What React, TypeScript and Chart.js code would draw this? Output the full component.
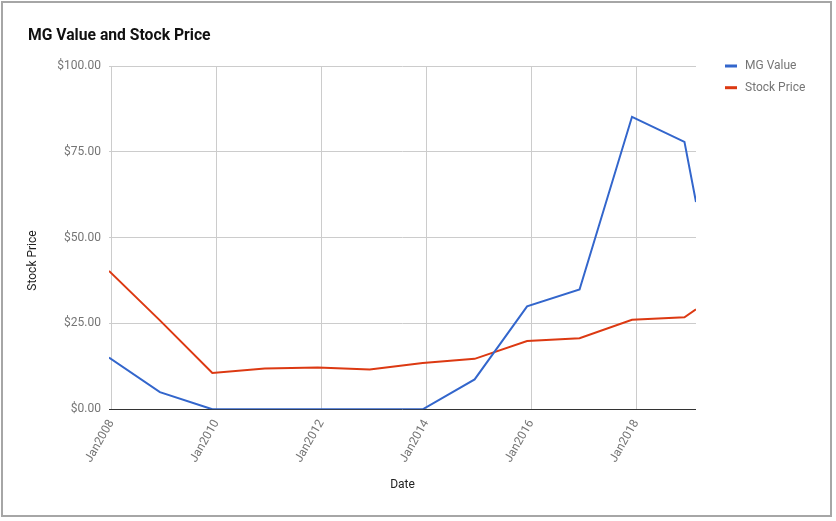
import React, { useEffect, useRef } from 'react';
import { Chart, registerables } from 'chart.js';

Chart.register(...registerables);

// ---- data ----
const pointDates = [2007.95, 2008.92, 2009.92, 2010.92, 2011.93, 2012.92, 2013.93, 2014.92, 2015.92, 2016.92, 2017.92, 2018.92, 2019.14];
const mgValue = [15.1, 5.0, 0, 0, 0, 0, 0, 8.7, 30.0, 34.9, 85.2, 77.9, 60.4];
const stockPrice = [40.3, 25.9, 10.6, 11.9, 12.2, 11.6, 13.5, 14.7, 19.9, 20.7, 26.1, 26.8, 29.1];
const xTickYears = [2008, 2010, 2012, 2014, 2016, 2018];
const yTickValues = [0, 25, 50, 75, 100];
const seriesNames = ['MG Value', 'Stock Price'];
const seriesColors = ['#3366cc', '#dc3912'];
const chartTitle = 'MG Value and Stock Price';
const xAxisTitle = 'Date';
const yAxisTitle = 'Stock Price';

const sideLegend = {
  id: 'sideLegend',
  afterDraw(chart: any) {
    const { ctx, chartArea } = chart;
    ctx.save();
    ctx.font = '12px Roboto';
    ctx.textBaseline = 'middle';
    ctx.textAlign = 'left';
    chart.data.datasets.forEach((ds: any, i: number) => {
      const y = chartArea.top + i * 21.7;
      const x = chartArea.right + 29;
      ctx.fillStyle = ds.borderColor;
      ctx.fillRect(x, y - 1.5, 12, 3);
      ctx.fillStyle = '#757575';
      ctx.fillText(ds.label, x + 20, y);
    });
    // y-axis title, centred on the whole chart height
    ctx.translate(33, chart.height / 2);
    ctx.rotate(-Math.PI / 2);
    ctx.textAlign = 'center';
    ctx.fillStyle = '#222';
    ctx.fillText(yAxisTitle, 0, 0);
    ctx.restore();
  },
};

export default function App() {
  const canvasRef = useRef<HTMLCanvasElement>(null);

  useEffect(() => {
    document.body.style.margin = '0';
    const canvas = canvasRef.current;
    if (!canvas) return;
    Chart.defaults.font.family = 'Roboto';
    const chart = new Chart(canvas, {
      type: 'line',
      data: {
        datasets: [
          {
            label: seriesNames[0],
            data: pointDates.map((x, i) => ({ x, y: mgValue[i] })),
            borderColor: seriesColors[0],
            backgroundColor: seriesColors[0],
            borderWidth: 2,
            pointRadius: 0,
            tension: 0,
          },
          {
            label: seriesNames[1],
            data: pointDates.map((x, i) => ({ x, y: stockPrice[i] })),
            borderColor: seriesColors[1],
            backgroundColor: seriesColors[1],
            borderWidth: 2,
            pointRadius: 0,
            tension: 0,
          },
        ],
      },
      options: {
        animation: false,
        responsive: false,
        devicePixelRatio: 1,
        layout: { padding: { left: 28, right: 140, top: 0, bottom: 24.5 } },
        plugins: {
          legend: { display: false },
          tooltip: { enabled: false },
          title: {
            display: true,
            text: chartTitle,
            align: 'start',
            color: '#111',
            font: { size: 15.7, weight: 'bold', family: 'Roboto' },
            padding: { top: 26.6, bottom: 20.56 },
          },
        },
        scales: {
          x: {
            type: 'linear',
            min: pointDates[0],
            max: pointDates[pointDates.length - 1],
            afterBuildTicks: (scale: any) => {
              scale.ticks = xTickYears.map((v) => ({ value: v }));
            },
            afterFit: (scale: any) => {
              scale.height = 87.2;
            },
            ticks: {
              autoSkip: false,
              minRotation: 60,
              maxRotation: 60,
              padding: 8,
              color: '#757575',
              font: { size: 12, family: 'Roboto' },
              callback: (v: any) => 'Jan' + v,
            },
            grid: { color: '#cccccc', drawTicks: false },
            border: { display: false },
            title: {
              display: true,
              text: xAxisTitle,
              color: '#222',
              font: { size: 12, family: 'Roboto' },
              padding: { top: 4, bottom: 4 },
            },
          },
          y: {
            min: 0,
            max: 100,
            afterBuildTicks: (scale: any) => {
              scale.ticks = yTickValues.map((v) => ({ value: v }));
            },
            afterFit: (scale: any) => {
              scale.width = 81;
            },
            ticks: {
              padding: 8,
              color: '#757575',
              font: { size: 12, family: 'Roboto' },
              callback: (v: any) => '$' + Number(v).toFixed(2),
            },
            grid: {
              drawTicks: false,
              color: (ctx: any) => (ctx.tick && ctx.tick.value === 0 ? '#333333' : '#cccccc'),
            },
            border: { display: false },
            title: { display: false },
          },
        },
      },
      plugins: [sideLegend],
    } as any);
    return () => chart.destroy();
  }, []);

  return (
    <div style={{ position: 'relative', width: 836, height: 521, background: '#fff' }}>
      <canvas ref={canvasRef} width={836} height={521} style={{ display: 'block' }} />
      <div
        style={{
          position: 'absolute',
          left: 1,
          top: 1,
          width: 831,
          height: 516,
          boxSizing: 'border-box',
          border: '2px solid #a6a6a6',
          pointerEvents: 'none',
        }}
      />
    </div>
  );
}
